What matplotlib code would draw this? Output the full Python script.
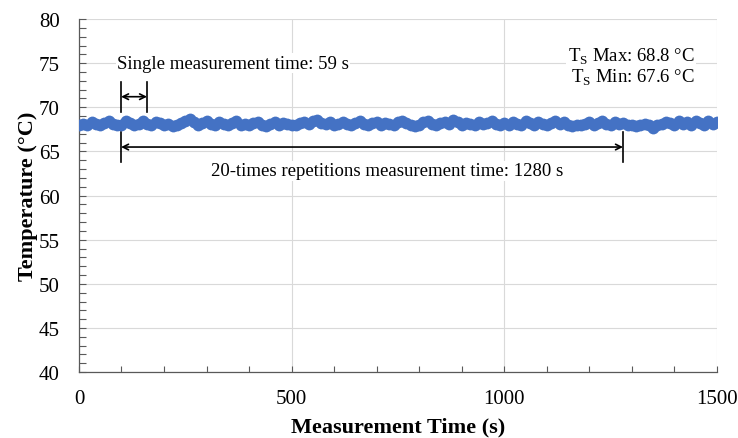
import matplotlib
matplotlib.use("Agg")
import matplotlib.pyplot as plt
import numpy as np
from matplotlib.ticker import MultipleLocator

time_s = list(range(0, 1501, 10))
temperature = [
    68.0, 68.1, 68.0, 68.3, 68.1, 68.0, 68.2, 68.4, 68.1, 68.0,
    68.0, 68.5, 68.2, 68.0, 68.1, 68.4, 68.1, 68.0, 68.3, 68.2,
    68.0, 68.1, 67.9, 68.0, 68.2, 68.4, 68.7, 68.3, 68.0, 68.2,
    68.4, 68.1, 68.0, 68.3, 68.1, 68.0, 68.2, 68.4, 68.0, 68.1,
    68.0, 68.2, 68.3, 68.0, 67.9, 68.1, 68.3, 68.0, 68.2, 68.1,
    68.0, 68.0, 68.2, 68.3, 68.1, 68.4, 68.6, 68.2, 68.1, 68.3,
    68.0, 68.1, 68.3, 68.1, 68.0, 68.2, 68.4, 68.1, 68.0, 68.2,
    68.3, 68.0, 68.2, 68.1, 68.0, 68.3, 68.5, 68.2, 68.0, 67.9,
    68.0, 68.3, 68.5, 68.1, 68.0, 68.2, 68.3, 68.1, 68.6, 68.3,
    68.0, 68.2, 68.1, 68.0, 68.3, 68.1, 68.2, 68.4, 68.1, 68.0,
    68.2, 68.0, 68.3, 68.1, 68.0, 68.4, 68.2, 68.0, 68.3, 68.1,
    68.0, 68.2, 68.4, 68.1, 68.3, 68.0, 67.9, 68.0, 68.0, 68.1,
    68.3, 68.0, 68.2, 68.4, 68.1, 68.0, 68.3, 68.1, 68.2, 68.0,
    68.0, 67.9, 68.0, 68.1, 68.0, 67.6, 68.0, 68.1, 68.3, 68.2,
    68.0, 68.4, 68.1, 68.3, 68.0, 68.5, 68.2, 68.0, 68.4, 68.1,
    68.3,
]

plt.rcParams['font.family'] = ['Liberation Serif', 'DejaVu Serif']

fig = plt.figure(figsize=(7.38, 4.39), dpi=100)
ax = fig.add_axes([0.107, 0.150, 0.8645, 0.8044])

ax.plot(time_s, temperature, color='#4472C4', lw=5.5, marker='o',
        markersize=8.5, markeredgewidth=0, zorder=3)

ax.set_xlim(0, 1500)
ax.set_ylim(40, 80)
ax.xaxis.set_major_locator(MultipleLocator(500))
ax.xaxis.set_minor_locator(MultipleLocator(100))
ax.yaxis.set_major_locator(MultipleLocator(5))
ax.yaxis.set_minor_locator(MultipleLocator(1))
ax.grid(True, which='major', color='#D9D9D9', lw=0.8, zorder=0)
ax.tick_params(which='both', direction='in', length=5, width=0.8,
               colors='#595959', labelcolor='black', labelsize=15)
ax.tick_params(axis='x', which='both', length=4, pad=12)
ax.tick_params(axis='y', which='both', pad=14)
for s in ['top', 'right']:
    ax.spines[s].set_visible(False)
for s in ['left', 'bottom']:
    ax.spines[s].set_color('#595959')
    ax.spines[s].set_linewidth(0.9)

ax.set_xlabel('Measurement Time (s)', fontsize=16, fontweight='bold', labelpad=6)
ax.set_ylabel('Temperature (\u00b0C)', fontsize=16, fontweight='bold', labelpad=0.5)

# single measurement annotation
ax.plot([99, 99], [69.5, 72.9], color='black', lw=1.2)
ax.plot([160, 160], [69.5, 72.9], color='black', lw=1.2)
ax.annotate('', xy=(99, 71.2), xytext=(160, 71.2),
            arrowprops=dict(arrowstyle='<->', color='black', lw=1.2,
                            shrinkA=0, shrinkB=0))
ax.text(89, 75.0, 'Single measurement time: 59 s', fontsize=13.5,
        ha='left', va='center', bbox=dict(fc='white', ec='none', pad=1))

# 20-times annotation
ax.plot([99, 99], [63.8, 67.2], color='black', lw=1.2)
ax.plot([1279, 1279], [63.8, 67.2], color='black', lw=1.2)
ax.annotate('', xy=(99, 65.5), xytext=(1279, 65.5),
            arrowprops=dict(arrowstyle='<->', color='black', lw=1.2,
                            shrinkA=0, shrinkB=0))
ax.text(724, 62.8, '20-times repetitions measurement time: 1280 s',
        fontsize=13.5, ha='center', va='center',
        bbox=dict(fc='white', ec='none', pad=1))

ax.text(1447, 75.8, 'T$_\\mathregular{S}$ Max: 68.8 \u00b0C', fontsize=13.5,
        ha='right', va='center', bbox=dict(fc='white', ec='none', pad=1))
ax.text(1447, 73.4, 'T$_\\mathregular{S}$ Min: 67.6 \u00b0C', fontsize=13.5,
        ha='right', va='center', bbox=dict(fc='white', ec='none', pad=1))

fig.savefig('out.png', dpi=100)
